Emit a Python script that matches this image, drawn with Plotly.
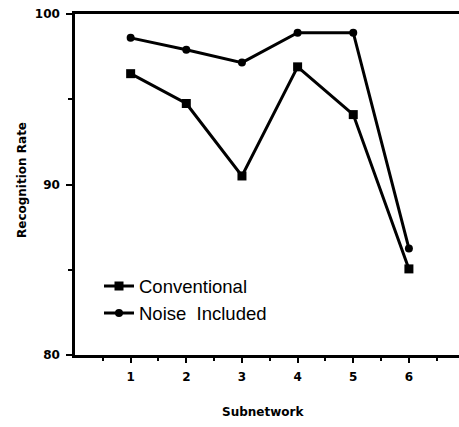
import plotly.graph_objects as go

subnetwork = [1, 2, 3, 4, 5, 6]
conventional = [96.5, 94.75, 90.5, 96.9, 94.1, 85.05]
noise_included = [98.6, 97.9, 97.15, 98.9, 98.9, 86.25]
y_ticks = [80, 90, 100]
x_ticks = [1, 2, 3, 4, 5, 6]

BOLD = "DejaVu Sans, sans-serif"
fig = go.Figure()
fig.add_trace(go.Scatter(
    x=subnetwork, y=conventional, mode="lines+markers", name="Conventional",
    line=dict(color="black", width=3),
    marker=dict(symbol="square", size=9, color="black"),
))
fig.add_trace(go.Scatter(
    x=subnetwork, y=noise_included, mode="lines+markers", name="Noise  Included",
    line=dict(color="black", width=3),
    marker=dict(symbol="circle", size=8, color="black"),
))

fig.update_layout(
    width=459, height=427,
    margin=dict(l=75, r=0, t=14, b=72),
    plot_bgcolor="white", paper_bgcolor="white",
    font=dict(family="Liberation Sans, Arial, sans-serif", color="black"),
    showlegend=True,
    legend=dict(
        x=0.0625, y=0.257, xanchor="left", yanchor="top",
        bgcolor="rgba(0,0,0,0)",
        font=dict(size=18.5, family="Liberation Sans, Arial, sans-serif"),
        itemwidth=30,
    ),
    xaxis=dict(
        range=[0, 6.9], tickvals=x_ticks, ticktext=[str(v) for v in x_ticks],
        showline=True, linecolor="black", linewidth=2.5, mirror=True,
        ticks="outside", ticklen=5, tickwidth=1.5, tickcolor="black",
        ticklabelstandoff=4,
        showgrid=False, zeroline=False,
        tickfont=dict(size=12, family=BOLD, weight="bold"),
        minor=dict(tickvals=[0.5, 1.5, 2.5, 3.5, 4.5, 5.5, 6.5], ticks="outside",
                   ticklen=3, tickwidth=1.5, tickcolor="black"),
    ),
    yaxis=dict(
        range=[80, 100], tickvals=y_ticks, ticktext=[str(v) for v in y_ticks],
        showline=True, linecolor="black", linewidth=2.5, mirror=False,
        ticks="outside", ticklen=6, tickwidth=1.5, tickcolor="black",
        ticklabelstandoff=4,
        showgrid=False, zeroline=False,
        tickfont=dict(size=12, family=BOLD, weight="bold"),
        minor=dict(tickvals=[85, 95], ticks="outside", ticklen=4,
                   tickwidth=1.5, tickcolor="black"),
    ),
    annotations=[
        dict(text="<b>Subnetwork</b>", xref="paper", yref="paper",
             x=(263 - 75) / 384, y=(355 - 412) / 341, xanchor="center", yanchor="middle",
             showarrow=False, font=dict(size=12, family=BOLD)),
        dict(text="<b>Recognition Rate</b>", xref="paper", yref="paper",
             x=(22 - 75) / 384, y=(355 - 180) / 341, xanchor="center", yanchor="middle",
             textangle=-90, showarrow=False, font=dict(size=12, family=BOLD)),
    ],
)

fig.write_html("out.html", config={"displayModeBar": False},
               post_script="document.body.style.margin='0';")
